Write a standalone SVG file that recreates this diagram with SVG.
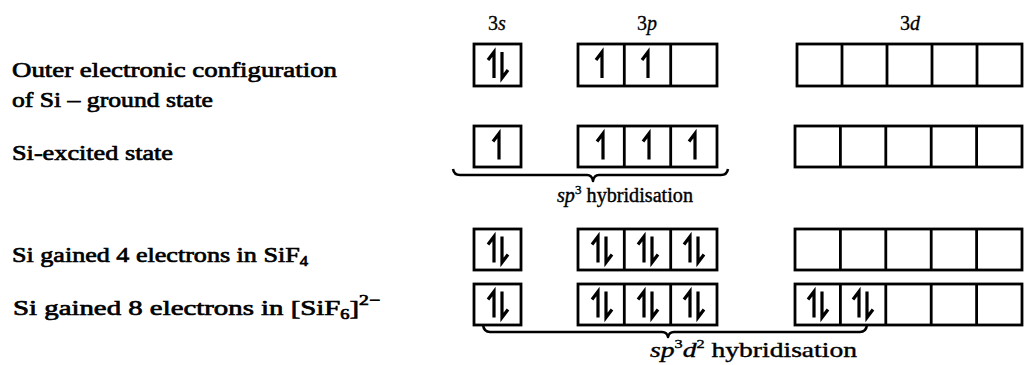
<svg xmlns="http://www.w3.org/2000/svg" xmlns:xlink="http://www.w3.org/1999/xlink" width="1024" height="365" viewBox="0 0 1024 365">
<style>
.bg{fill:#fff}
.box{fill:none;stroke:#000;stroke-width:2.8}
.div{stroke:#000;stroke-width:2.8}
.e{fill:none;stroke:#000;stroke-width:3.2;stroke-linecap:butt;stroke-linejoin:miter}
.brace{fill:none;stroke:#000;stroke-width:2.5;stroke-linejoin:round}
.lbl{font-family:"Liberation Serif","Times New Roman",serif;font-size:22px;font-weight:normal;fill:#000;stroke:#000;stroke-width:0.7}
.orb{font-family:"Liberation Serif","Times New Roman",serif;font-size:20px;fill:#000;stroke:#000;stroke-width:0.3}
.hyb{font-family:"Liberation Serif","Times New Roman",serif;fill:#000;stroke:#000;stroke-width:0.4}
.it{font-style:italic}
</style>
<defs>
<path id="up" class="e" d="M0,13 V-13 L-6,-5"/>
<path id="dn" class="e" d="M0,-13 V13 L6,5"/>
</defs>
<rect class="bg" x="0" y="0" width="1024" height="365"/>

<g id="labels">
<text class="lbl" x="12" y="77" textLength="325" lengthAdjust="spacingAndGlyphs">Outer electronic configuration</text>
<text class="lbl" x="12" y="107" textLength="201" lengthAdjust="spacingAndGlyphs">of Si – ground state</text>
<text class="lbl" x="12" y="160" textLength="161" lengthAdjust="spacingAndGlyphs">Si-excited state</text>
<text class="lbl" x="12" y="262" textLength="296" lengthAdjust="spacingAndGlyphs">Si gained 4 electrons in SiF<tspan font-size="14" dy="4">4</tspan></text>
<text class="lbl" x="13" y="315" textLength="367" lengthAdjust="spacingAndGlyphs">Si gained 8 electrons in [SiF<tspan font-size="14" dy="4">6</tspan><tspan dy="-4">]</tspan><tspan font-size="15" dy="-10">2−</tspan></text>
</g>

<g id="orbital-labels">
<text class="orb" x="497" y="30" text-anchor="middle">3<tspan class="it">s</tspan></text>
<text class="orb" x="647" y="30" text-anchor="middle">3<tspan class="it">p</tspan></text>
<text class="orb" x="910" y="30" text-anchor="middle">3<tspan class="it">d</tspan></text>
</g>

<g id="row-ground">
<rect class="box" x="474" y="44" width="47" height="42"/>
<rect class="box" x="578" y="44" width="139" height="42"/>
<line class="div" x1="624.3" y1="44" x2="624.3" y2="86"/>
<line class="div" x1="670.7" y1="44" x2="670.7" y2="86"/>
<rect class="box" x="797" y="44" width="225" height="42"/>
<line class="div" x1="842" y1="44" x2="842" y2="86"/>
<line class="div" x1="887" y1="44" x2="887" y2="86"/>
<line class="div" x1="932" y1="44" x2="932" y2="86"/>
<line class="div" x1="977" y1="44" x2="977" y2="86"/>
<use xlink:href="#up" x="494" y="65"/><use xlink:href="#dn" x="502" y="65"/>
<use xlink:href="#up" x="602" y="65"/>
<use xlink:href="#up" x="648" y="65"/>
</g>

<g id="row-excited">
<rect class="box" x="474" y="126" width="47" height="41"/>
<rect class="box" x="578" y="126" width="139" height="41"/>
<line class="div" x1="624.3" y1="126" x2="624.3" y2="167"/>
<line class="div" x1="670.7" y1="126" x2="670.7" y2="167"/>
<rect class="box" x="795" y="126" width="227" height="41"/>
<line class="div" x1="840.4" y1="126" x2="840.4" y2="167"/>
<line class="div" x1="885.8" y1="126" x2="885.8" y2="167"/>
<line class="div" x1="931.2" y1="126" x2="931.2" y2="167"/>
<line class="div" x1="976.6" y1="126" x2="976.6" y2="167"/>
<use xlink:href="#up" x="499" y="146.5"/>
<use xlink:href="#up" x="603" y="146.5"/>
<use xlink:href="#up" x="649" y="146.5"/>
<use xlink:href="#up" x="695" y="146.5"/>
</g>

<g id="row-sif4">
<rect class="box" x="474" y="229" width="47" height="41"/>
<rect class="box" x="578" y="229" width="139" height="41"/>
<line class="div" x1="624.3" y1="229" x2="624.3" y2="270"/>
<line class="div" x1="670.7" y1="229" x2="670.7" y2="270"/>
<rect class="box" x="795" y="229" width="227" height="41"/>
<line class="div" x1="840.4" y1="229" x2="840.4" y2="270"/>
<line class="div" x1="885.8" y1="229" x2="885.8" y2="270"/>
<line class="div" x1="931.2" y1="229" x2="931.2" y2="270"/>
<line class="div" x1="976.6" y1="229" x2="976.6" y2="270"/>
<use xlink:href="#up" x="494" y="249.5"/><use xlink:href="#dn" x="502" y="249.5"/>
<use xlink:href="#up" x="598" y="249.5"/><use xlink:href="#dn" x="606" y="249.5"/>
<use xlink:href="#up" x="644" y="249.5"/><use xlink:href="#dn" x="652" y="249.5"/>
<use xlink:href="#up" x="690" y="249.5"/><use xlink:href="#dn" x="698" y="249.5"/>
</g>

<g id="row-sif6">
<rect class="box" x="474" y="284" width="47" height="41"/>
<rect class="box" x="578" y="284" width="139" height="41"/>
<line class="div" x1="624.3" y1="284" x2="624.3" y2="325"/>
<line class="div" x1="670.7" y1="284" x2="670.7" y2="325"/>
<rect class="box" x="795" y="284" width="227" height="41"/>
<line class="div" x1="840.4" y1="284" x2="840.4" y2="325"/>
<line class="div" x1="885.8" y1="284" x2="885.8" y2="325"/>
<line class="div" x1="931.2" y1="284" x2="931.2" y2="325"/>
<line class="div" x1="976.6" y1="284" x2="976.6" y2="325"/>
<use xlink:href="#up" x="494" y="304.5"/><use xlink:href="#dn" x="502" y="304.5"/>
<use xlink:href="#up" x="598" y="304.5"/><use xlink:href="#dn" x="606" y="304.5"/>
<use xlink:href="#up" x="644" y="304.5"/><use xlink:href="#dn" x="652" y="304.5"/>
<use xlink:href="#up" x="690" y="304.5"/><use xlink:href="#dn" x="698" y="304.5"/>
<use xlink:href="#up" x="814" y="304.5"/><use xlink:href="#dn" x="822" y="304.5"/>
<use xlink:href="#up" x="859" y="304.5"/><use xlink:href="#dn" x="867" y="304.5"/>
</g>

<g id="braces">
<path class="brace" d="M453,169 Q454,175 460,175 H587 Q592,175 593,181 Q594,175 599,175 H721 Q727,175 728,169"/>
<path class="brace" d="M483,325 Q484,332 490,332 H662 Q667,332 668,337 Q669,332 674,332 H860 Q866,332 867,325"/>
</g>

<g id="hybrid-labels">
<text class="hyb" x="557" y="202" font-size="20" textLength="136" lengthAdjust="spacingAndGlyphs"><tspan class="it">sp</tspan><tspan font-size="13" dy="-8">3</tspan><tspan dy="8"> hybridisation</tspan></text>
<text class="hyb" x="650" y="357" font-size="22" textLength="207" lengthAdjust="spacingAndGlyphs"><tspan class="it">sp</tspan><tspan font-size="13" dy="-9">3</tspan><tspan class="it" dy="9">d</tspan><tspan font-size="13" dy="-9">2</tspan><tspan dy="9"> hybridisation</tspan></text>
</g>
</svg>
